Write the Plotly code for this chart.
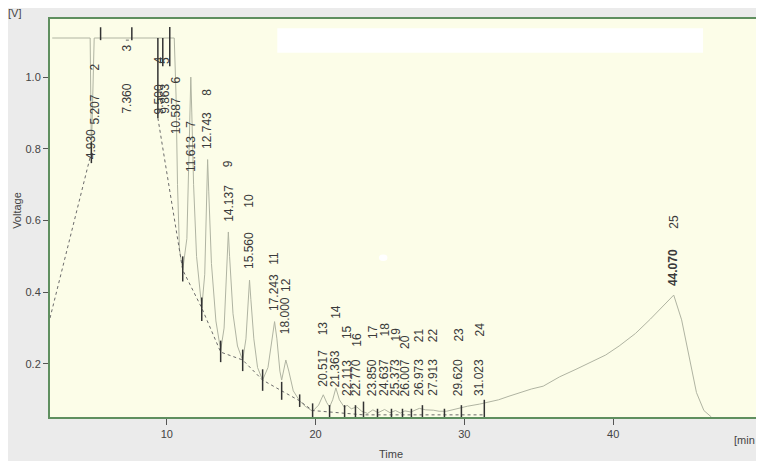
import plotly.graph_objects as go

# ---------------- data ----------------
# detector signal (min, V)
signal_time = [2.30, 4.85, 4.93, 5.12, 10.50, 10.62, 10.72, 10.85, 11.07,
               11.35, 11.50, 11.613, 11.68, 11.80, 12.00, 12.35,
               12.55, 12.68, 12.743, 12.82, 13.00, 13.30, 13.62,
               13.85, 14.05, 14.137, 14.22, 14.45, 14.75, 15.10,
               15.32, 15.48, 15.56, 15.65, 15.85, 16.10, 16.44,
               16.80, 17.10, 17.243, 17.40, 17.60, 17.72,
               17.85, 18.00, 18.20, 18.50, 18.93, 19.30, 19.80,
               20.20, 20.517, 20.75, 20.94, 21.15, 21.363, 21.60, 21.95,
               22.113, 22.40, 22.77, 23.10, 23.50, 23.85, 24.20, 24.637,
               25.00, 25.373, 25.70, 26.007, 26.40, 26.973, 27.40, 27.913,
               28.30, 28.80, 29.20, 29.62, 30.20, 31.023, 31.50, 32.30,
               33.00, 33.70, 34.50, 35.30, 36.40, 37.50, 38.50, 39.50,
               40.40, 41.50, 42.50, 43.30, 43.80, 44.07, 44.60, 45.10,
               45.60, 46.10, 46.60]
signal_volt = [1.109, 1.109, 0.790, 1.109, 1.109, 0.950, 0.700, 0.520, 0.462,
               0.550, 0.800, 1.000, 0.900, 0.700, 0.500, 0.356,
               0.450, 0.700, 0.770, 0.680, 0.480, 0.320, 0.238,
               0.300, 0.500, 0.568, 0.500, 0.340, 0.250, 0.210,
               0.270, 0.390, 0.434, 0.380, 0.270, 0.190, 0.155,
               0.190, 0.280, 0.318, 0.270, 0.180, 0.155,
               0.185, 0.211, 0.180, 0.125, 0.097, 0.082, 0.068,
               0.085, 0.114, 0.092, 0.080, 0.100, 0.133, 0.100, 0.078,
               0.085, 0.075, 0.080, 0.068, 0.062, 0.072, 0.064, 0.073,
               0.064, 0.070, 0.063, 0.069, 0.066, 0.076, 0.072, 0.071,
               0.068, 0.068, 0.072, 0.078, 0.082, 0.088, 0.092, 0.100,
               0.110, 0.120, 0.130, 0.138, 0.164, 0.185, 0.205, 0.225,
               0.250, 0.285, 0.325, 0.360, 0.380, 0.392, 0.323, 0.220,
               0.120, 0.070, 0.052]

# integration baseline (min, V); None separates drawn pieces
baseline_time = [2.15, 4.93, None, 7.25, 7.65, None,
                 9.40, 11.07, 12.35, 13.62, 15.10, 16.44, 17.72, 18.93,
                 19.80, 20.94, 21.95, 22.68, 23.22, 31.34]
baseline_volt = [0.328, 0.790, None, 1.103, 1.103, None,
                 0.886, 0.462, 0.356, 0.233, 0.211, 0.155, 0.125, 0.097,
                 0.070, 0.066, 0.062, 0.060, 0.058, 0.058]

# peak boundary markers (min, low V, high V)
marker_time = [4.93, 5.55, 7.65, 9.40, 9.73, 10.20, 11.07, 12.35, 13.62, 15.10,
               16.44, 17.72, 18.93, 19.80, 20.94, 21.95, 22.68, 23.22, 24.16,
               25.10, 25.84, 26.44, 27.18, 28.66, 29.80, 31.34]
marker_low = [0.760, 1.103, 1.103, 0.886, 1.030, 1.030, 0.430, 0.320, 0.205, 0.180,
              0.125, 0.100, 0.080, 0.040, 0.040, 0.040, 0.040, 0.040, 0.040,
              0.040, 0.040, 0.040, 0.040, 0.040, 0.040, 0.040]
marker_high = [0.820, 1.139, 1.139, 1.109, 1.109, 1.140, 0.500, 0.385, 0.265, 0.240,
               0.185, 0.150, 0.115, 0.090, 0.085, 0.085, 0.085, 0.095, 0.075,
               0.075, 0.075, 0.075, 0.085, 0.075, 0.085, 0.100]

# peak table
retention_times = [4.930, 5.207, 7.360, 9.500, 9.863, 10.587, 11.613, 12.743,
                   14.137, 15.560, 17.243, 18.000, 20.517, 21.363, 22.113,
                   22.770, 23.850, 24.637, 25.373, 26.007, 26.973, 27.913,
                   29.620, 31.023, 44.070]
peak_numbers = ["", "2", "3", "4", "5", "6", "7", "8", "9", "10", "11", "12",
                "13", "14", "15", "16", "17", "18", "19", "20", "21", "22",
                "23", "24", "25"]

# label placement (V): bottom of retention-time text, centre of peak number
rt_label_base = [0.769, 0.866, 0.894, 0.894, 0.894, 0.838, 0.732, 0.797, 0.593,
                 0.462, 0.345, 0.281, 0.133, 0.133, 0.108, 0.108, 0.108, 0.108,
                 0.108, 0.108, 0.108, 0.108, 0.108, 0.108, 0.415]
num_label_mid = [None, 1.028, 1.081, 1.047, 1.047, 0.992, 0.869, 0.958, 0.758,
                 0.654, 0.495, 0.420, 0.300, 0.345, 0.289, 0.267, 0.289, 0.295,
                 0.281, 0.261, 0.281, 0.281, 0.281, 0.295, 0.596]

x_ticks = [10, 20, 30, 40]
y_ticks = [0.2, 0.4, 0.6, 0.8, 1.0]

# ---------------- figure ----------------
FONT = "Liberation Sans, Arial, sans-serif"
fig = go.Figure()

fig.add_trace(go.Scatter(x=signal_time, y=signal_volt, mode="lines",
                         line=dict(color="#b0b4a2", width=1), hoverinfo="skip"))
fig.add_trace(go.Scatter(x=baseline_time, y=baseline_volt, mode="lines",
                         line=dict(color="#6a6a6a", width=1, dash="dot"),
                         hoverinfo="skip", connectgaps=False))

mx, my = [], []
for t, lo, hi in zip(marker_time, marker_low, marker_high):
    mx += [t, t, None]
    my += [lo, hi, None]
fig.add_trace(go.Scatter(x=mx, y=my, mode="lines",
                         line=dict(color="#333333", width=1.5), hoverinfo="skip"))

annotations = []
for rt, num, base, mid in zip(retention_times, peak_numbers, rt_label_base, num_label_mid):
    bold = rt == 44.070
    txt = f"{rt:.3f}"
    annotations.append(dict(x=rt, y=base, xref="x", yref="y", text=f"<b>{txt}</b>" if bold else txt,
                            textangle=-90, showarrow=False, xanchor="center", yanchor="bottom",
                            font=dict(family=FONT, size=12, color="#3a3a3a"),
                            borderpad=0))
    if num:
        annotations.append(dict(x=rt, y=mid, xref="x", yref="y", text=num,
                                textangle=-90, showarrow=False, xanchor="center", yanchor="middle",
                                font=dict(family=FONT, size=12, color="#3a3a3a"),
                                borderpad=0))

annotations += [
    dict(x=-0.047, y=0.52, xref="paper", yref="paper", text="Voltage", textangle=-90,
         showarrow=False, xanchor="center", yanchor="middle",
         font=dict(family=FONT, size=11, color="#444")),
    dict(x=0.483, y=-0.093, xref="paper", yref="paper", text="Time",
         showarrow=False, xanchor="center", yanchor="middle",
         font=dict(family=FONT, size=11, color="#444")),
    dict(x=-0.062, y=1.015, xref="paper", yref="paper", text="[V]",
         showarrow=False, xanchor="left", yanchor="middle",
         font=dict(family=FONT, size=11, color="#444")),
    dict(x=0.966, y=-0.058, xref="paper", yref="paper", text="[min",
         showarrow=False, xanchor="left", yanchor="middle",
         font=dict(family=FONT, size=11, color="#444")),
]

shapes = [
    dict(type="rect", xref="paper", yref="paper", x0=0.322, x1=0.925, y0=0.915, y1=0.977,
         fillcolor="white", line=dict(width=0), layer="above"),
    dict(type="circle", xref="paper", yref="paper", x0=0.466, x1=0.478, y0=0.392, y1=0.408,
         fillcolor="white", line=dict(width=0), layer="above"),
]

fig.update_layout(
    width=756, height=453,
    margin=dict(l=42, r=6, t=11, b=44),
    paper_bgcolor="#ebebeb", plot_bgcolor="#fcfde8",
    showlegend=False,
    annotations=annotations, shapes=shapes,
    font=dict(family=FONT, size=11, color="#444"),
    xaxis=dict(range=[2.15, 49.6], tickmode="array", tickvals=x_ticks,
               ticks="outside", ticklen=6, tickcolor="#555", tickwidth=1,
               showline=True, linecolor="#5f8f5f", linewidth=2, mirror=True,
               showgrid=False, zeroline=False,
               tickfont=dict(family=FONT, size=11, color="#444")),
    yaxis=dict(range=[0.052, 1.162], tickmode="array", tickvals=y_ticks,
               ticktext=[f"{v:.1f}" for v in y_ticks],
               ticks="outside", ticklen=5, tickcolor="#555", tickwidth=1,
               showline=True, linecolor="#5f8f5f", linewidth=2, mirror=True,
               showgrid=False, zeroline=False,
               tickfont=dict(family=FONT, size=11, color="#444")),
)

fig.write_html("out.html")
